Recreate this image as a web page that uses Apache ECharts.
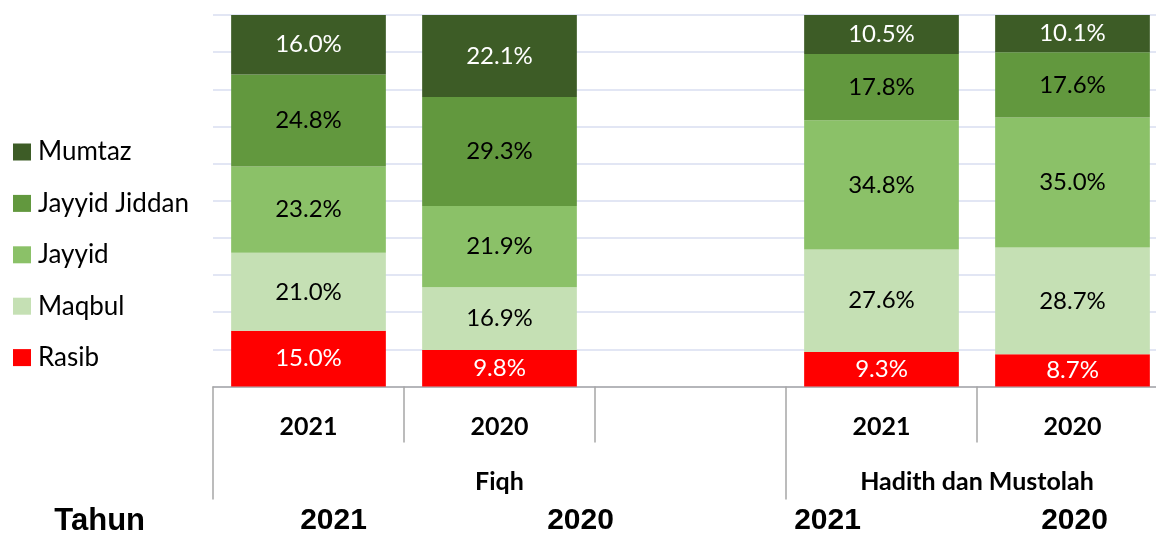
<!DOCTYPE html>
<html>
<head>
<meta charset="utf-8">
<script src="https://cdn.jsdelivr.net/npm/echarts@6/dist/echarts.min.js"></script>
<style>
  html, body { margin: 0; padding: 0; background: #fff; }
  #chart { width: 1156px; height: 535px; }
</style>
</head>
<body>
<div id="chart"></div>
<script>
// kategori tahun per mata pelajaran (slot kosong sebagai pemisah)
var years = ['2021', '2020', '', '2021', '2020'];
var subjects = ['Fiqh', 'Hadith dan Mustolah'];
var subjectSpan = [3, 2];
var tableYears = ['2021', '2020', '2021', '2020'];

var rasib = [15.0, 9.8, null, 9.3, 8.7];
var maqbul = [21.0, 16.9, null, 27.6, 28.7];
var jayyid = [23.2, 21.9, null, 34.8, 35.0];
var jayyidJiddan = [24.8, 29.3, null, 17.8, 17.6];
var mumtaz = [16.0, 22.1, null, 10.5, 10.1];

var chart = echarts.init(document.getElementById('chart'));

// posisi label & batas kelompok mata pelajaran
var subjectCenters = [], subjectEdges = [], pos = 0;
subjects.forEach(function (s, i) {
	subjectEdges.push(pos);
	subjectCenters.push(pos + subjectSpan[i] / 2);
	pos += subjectSpan[i];
});

function bar(name, data, color, labelColor) {
	return {
		name: name,
		type: 'bar',
		stack: 'total',
		barCategoryGap: '19%',
		data: data,
		itemStyle: { color: color },
		label: {
			show: true,
			position: 'inside',
			color: labelColor,
			fontFamily: 'Lato',
			fontSize: 24,
			formatter: function (p) { return p.value.toFixed(1) + '%'; }
		}
	};
}

var axisGray = '#A6A6A6';

var option = {
	animation: false,
	legend: {
		orient: 'vertical',
		left: 13,
		top: 139,
		padding: 0,
		itemWidth: 18,
		itemHeight: 17,
		itemGap: 25.4,
		icon: 'rect',
		textStyle: { fontFamily: 'Lato', fontSize: 26, color: '#000', padding: [0, 0, 0, 2] },
		data: ['Mumtaz', 'Jayyid Jiddan', 'Jayyid', 'Maqbul', 'Rasib']
	},
	grid: [
		{ left: 213, width: 955, top: 15, height: 371.5, outerBoundsMode: 'none' },
		{ left: 210, width: 988, top: 520, height: 1, outerBoundsMode: 'none' }
	],
	xAxis: [
		{
			type: 'category',
			data: years,
			gridIndex: 0,
			axisLine: { lineStyle: { color: axisGray, width: 1.5 } },
			axisTick: { show: true, interval: 0, length: 56, lineStyle: { color: axisGray, width: 1.5 } },
			axisLabel: { interval: 0, margin: 28, color: '#000', fontFamily: 'Lato', fontWeight: 'bold', fontSize: 25 }
		},
		{
			type: 'value',
			gridIndex: 0,
			position: 'bottom',
			min: 0,
			max: 5,
			axisLine: { show: false },
			splitLine: { show: false },
			axisTick: { show: true, customValues: subjectEdges, length: 113, lineStyle: { color: axisGray, width: 1.5 } },
			axisLabel: {
				customValues: subjectCenters,
				margin: 83,
				color: '#000',
				fontFamily: 'Lato',
				fontWeight: 'bold',
				fontSize: 25,
				formatter: function (v) { return subjects[subjectCenters.indexOf(v)]; }
			}
		},
		{
			type: 'category',
			data: tableYears,
			gridIndex: 1,
			axisLine: { show: false },
			axisTick: { show: false },
			axisLabel: { interval: 0, margin: 0, verticalAlign: 'middle', color: '#000', fontFamily: 'Liberation Sans', fontWeight: 'bold', fontSize: 30 },
			name: 'Tahun',
			nameLocation: 'start',
			nameGap: 65,
			nameTextStyle: { color: '#000', fontFamily: 'Liberation Sans', fontWeight: 'bold', fontSize: 31 }
		}
	],
	yAxis: [
		{
			type: 'value',
			gridIndex: 0,
			min: 0,
			max: 100,
			interval: 10,
			axisLabel: { show: false },
			axisLine: { show: false },
			axisTick: { show: false },
			splitLine: { lineStyle: { color: '#D9DEF0', width: 1.5 } }
		},
		{ type: 'value', gridIndex: 1, show: false }
	],
	series: [
		bar('Rasib', rasib, '#FF0000', '#fff'),
		bar('Maqbul', maqbul, '#C5E0B4', '#000'),
		bar('Jayyid', jayyid, '#8BC168', '#000'),
		bar('Jayyid Jiddan', jayyidJiddan, '#62983E', '#000'),
		bar('Mumtaz', mumtaz, '#3D5C26', '#fff')
	]
};

chart.setOption(option);
</script>
</body>
</html>
